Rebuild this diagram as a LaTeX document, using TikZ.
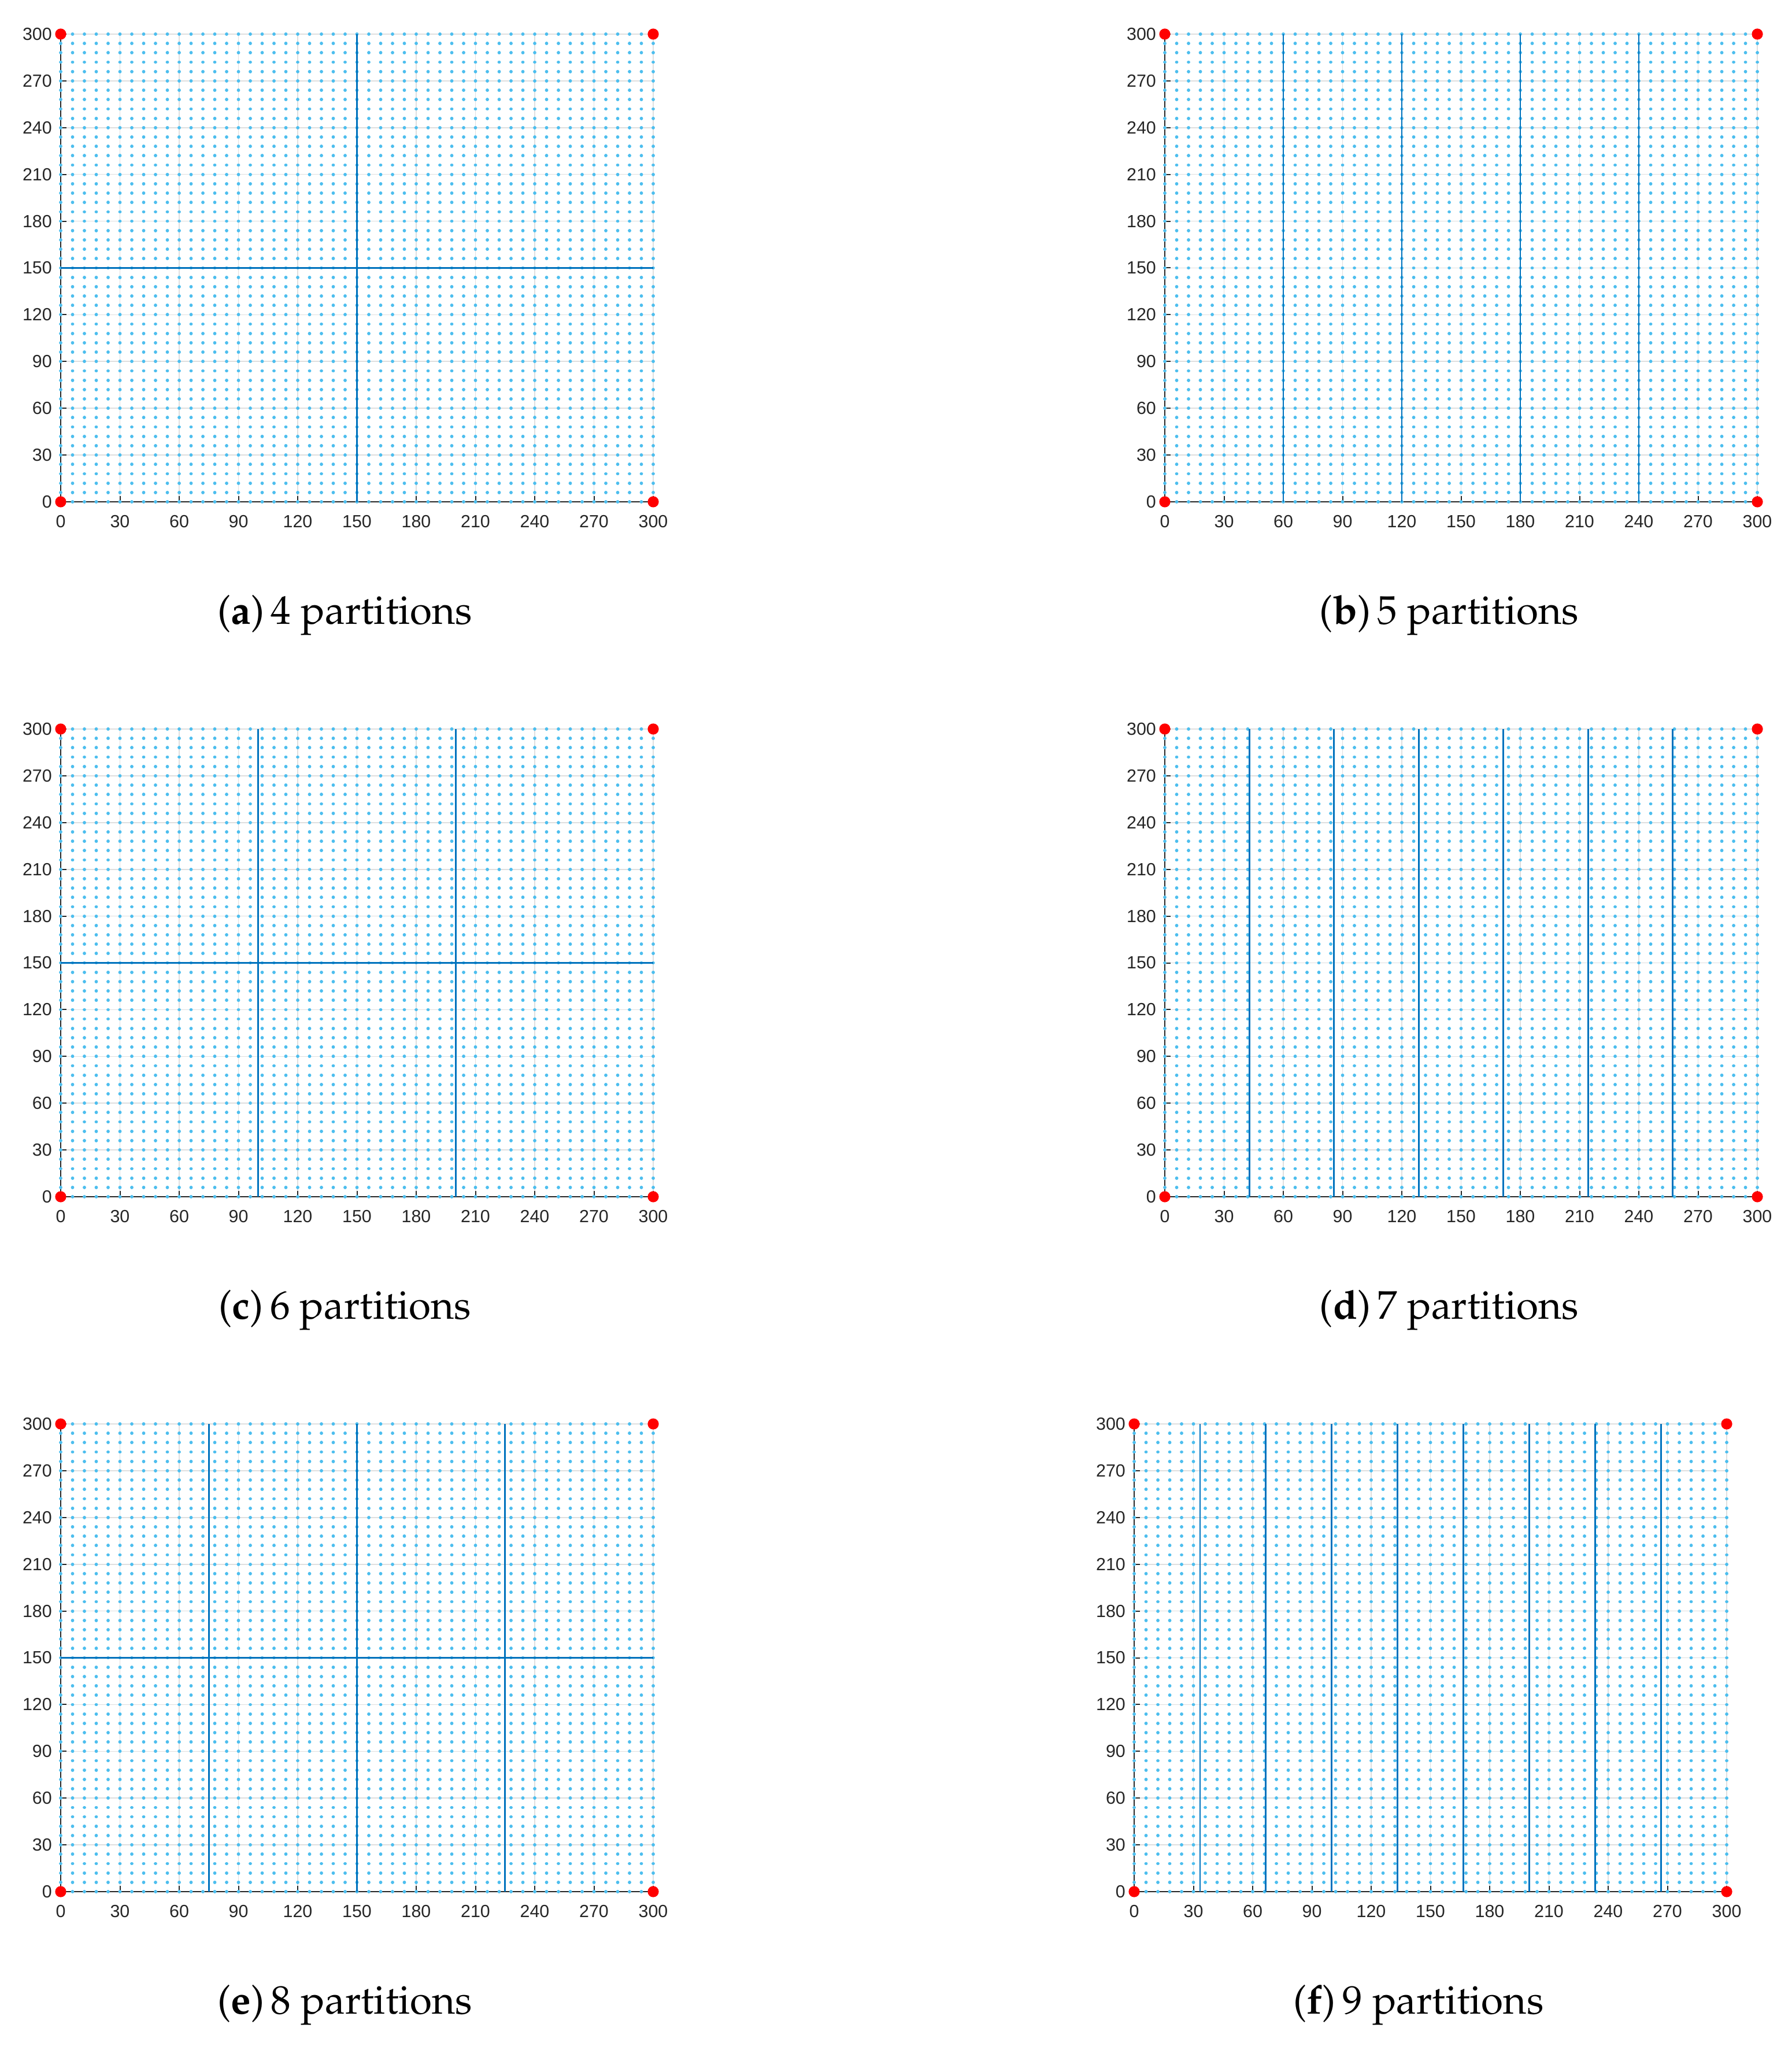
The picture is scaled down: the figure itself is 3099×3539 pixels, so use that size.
\documentclass[tikz,border=0pt]{standalone}
\usepackage[T1]{fontenc}
\usepackage{fontspec}
\newfontfamily\ticksfont{Liberation Sans}
\newcommand\capfont{\fontencoding{T1}\fontfamily{ppl}\selectfont}
\definecolor{dotcol}{HTML}{4DBEEE}
\definecolor{partcol}{HTML}{0072BD}
\definecolor{gridcol}{HTML}{DFDFDF}
\definecolor{axcol}{HTML}{262626}
\tikzset{
  dotrow/.style={draw=dotcol, line width=1.45pt, line cap=round, dash pattern=on 0.01pt off 5.115pt},
  gridline/.style={draw=gridcol, line width=0.4pt},
  axisline/.style={draw=axcol, line width=0.5pt},
  partline/.style={draw=partcol, line width=0.7pt},
  reddot/.style={circle, fill=red, draw=none, inner sep=0pt, minimum size=4.8pt},
  ticklbl/.style={font=\ticksfont\fontsize{7.6}{8}\selectfont, text=axcol, inner sep=0pt},
  captext/.style={font=\capfont\fontsize{17.3}{20}\selectfont, inner sep=0pt, anchor=base}
}
% #1 ox, #2 oy (bottom, px), #3 partition code, #4 letter, #5 number
\newcommand\mypanel[5]{%
  \begin{scope}[shift={(#1,#2)}, xscale=3.41667, yscale=-2.69667]
    \foreach \t in {0,30,...,300} {
      \draw[gridline] (\t,0) -- (\t,300);
      \draw[gridline] (0,\t) -- (300,\t);
    }
    \draw[axisline] (0,300) -- (0,0) -- (300,0);
    \foreach \t in {30,60,...,300} {
      \draw[axisline] (\t,0) -- ++(0,3.708);
      \draw[axisline] (0,\t) -- ++(2.927,0);
    }
    \foreach \t in {0,30,...,300} {
      \node[ticklbl, anchor=east, xshift=-3.6pt] (y#4\t) at (0,\t) {\t};
      \node[ticklbl, anchor=center, yshift=-8.45pt] (x#4\t) at (\t,0) {\t};
    }
    \foreach \v in {0,6,...,300} {
      \draw[dotrow] (0,\v) -- (301,\v);
    }
    #3
    \node[reddot] (r#4a) at (0,0) {};
    \node[reddot] (r#4b) at (0,300) {};
    \node[reddot] (r#4c) at (300,0) {};
    \node[reddot] (r#4d) at (300,300) {};
  \end{scope}
  \node[captext] (cap#4) at (#1+492,#2+211) {(\textbf{#4})\,#5 partitions};
}
\begin{document}
\begin{tikzpicture}[x=0.25pt,y=-0.25pt]
\useasboundingbox (0,0) rectangle (3099,3539);
\mypanel{105}{868}{%
  \draw[partline] (150,0) -- (150,300);
  \draw[partline] (0,150) -- (300,150);
}{a}{4}
\mypanel{2015}{868}{%
  \foreach \p in {60,120,180,240} {\draw[partline] (\p,0) -- (\p,300);}
}{b}{5}
\mypanel{105}{2070}{%
  \draw[partline] (100,0) -- (100,300);
  \draw[partline] (200,0) -- (200,300);
  \draw[partline] (0,150) -- (300,150);
}{c}{6}
\mypanel{2015}{2070}{%
  \foreach \k in {1,...,6} {\draw[partline] ({300*\k/7},0) -- ({300*\k/7},300);}
}{d}{7}
\mypanel{105}{3272}{%
  \foreach \p in {75,150,225} {\draw[partline] (\p,0) -- (\p,300);}
  \draw[partline] (0,150) -- (300,150);
}{e}{8}
\mypanel{1962}{3272}{%
  \foreach \k in {1,...,8} {\draw[partline] ({300*\k/9},0) -- ({300*\k/9},300);}
}{f}{9}
\end{tikzpicture}
\end{document}
